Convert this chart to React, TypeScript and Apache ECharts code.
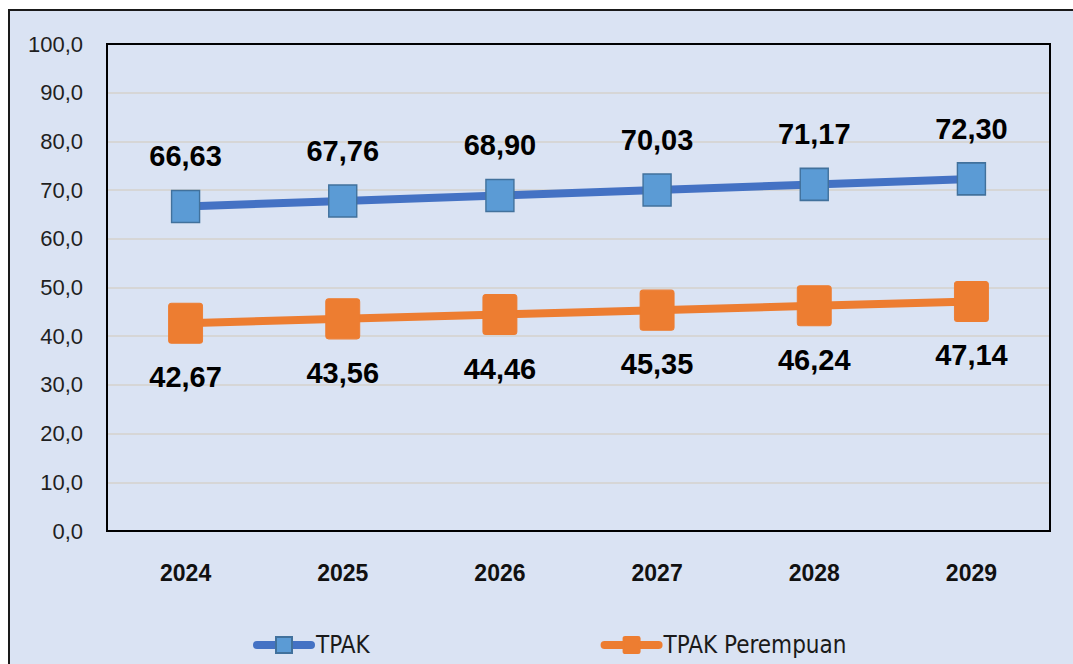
import React, { useEffect, useRef } from "react";
import * as echarts from "echarts";

const years = ["2024", "2025", "2026", "2027", "2028", "2029"];
const tpak = [66.63, 67.76, 68.9, 70.03, 71.17, 72.3];
const tpakPerempuan = [42.67, 43.56, 44.46, 45.35, 46.24, 47.14];
const seriesNames = ["TPAK", "TPAK Perempuan"];
const yMin = 0;
const yMax = 100;
const yStep = 10;

const fmt1 = (v: number) => v.toFixed(1).replace(".", ",");
const fmt2 = (v: number) => v.toFixed(2).replace(".", ",");

const FONT = "'Liberation Sans', Arial, sans-serif";
const COND = "'DejaVu Sans Condensed', 'Liberation Sans', sans-serif";
const ROUND_SQ =
  "path://M3,0H31A3,3 0 0 1 34,3V37A3,3 0 0 1 31,40H3A3,3 0 0 1 0,37V3A3,3 0 0 1 3,0Z";

const GRID = { left: 107, top: 44, right: 23, bottom: 133 };

export default function App() {
  const ref = useRef<HTMLDivElement>(null);
  useEffect(() => {
    if (!ref.current) return;
    const chart = echarts.init(ref.current, undefined, { renderer: "svg" });
    const W = 1073;
    const H = 664;
    chart.setOption({
      animation: false,
      backgroundColor: "#ffffff",
      graphic: [
        {
          type: "rect",
          z: -10,
          silent: true,
          shape: { x: 9, y: 10, width: 1200, height: 800 },
          style: { fill: "#dae3f3", stroke: "#1a1a1a", lineWidth: 2 },
        },
        {
          type: "rect",
          z: 1,
          silent: true,
          shape: {
            x: GRID.left,
            y: GRID.top,
            width: W - GRID.left - GRID.right,
            height: H - GRID.top - GRID.bottom,
          },
          style: { fill: "none", stroke: "#000000", lineWidth: 2 },
        },
      ],
      grid: {
        ...GRID,
        show: false,
        containLabel: false,
      },
      legend: {
        data: seriesNames,
        left: 248,
        top: 628,
        itemWidth: 54,
        itemHeight: 20,
        itemGap: 231,
        lineStyle: { width: 8, cap: "round" },
        textStyle: { fontFamily: COND, fontSize: 24, color: "#1a1a1a" },
      },
      xAxis: {
        type: "category",
        data: years,
        boundaryGap: true,
        axisLine: { show: false },
        axisTick: { show: false },
        axisLabel: {
          margin: 30,
          fontFamily: FONT,
          fontWeight: "bold",
          fontSize: 23,
          color: "#111111",
        },
      },
      yAxis: {
        type: "value",
        min: yMin,
        max: yMax,
        interval: yStep,
        axisLine: { show: false },
        axisTick: { show: false },
        splitLine: { show: true, lineStyle: { color: "#d6d6d6", width: 2 } },
        axisLabel: {
          margin: 24,
          fontFamily: FONT,
          fontSize: 22,
          color: "#1f1f1f",
          formatter: (v: number) => fmt1(v),
        },
      },
      series: [
        {
          name: seriesNames[0],
          type: "line",
          data: tpak,
          symbol: "rect",
          symbolSize: [28, 32],
          lineStyle: { color: "#4472c4", width: 8 },
          itemStyle: { color: "#5b9bd5", borderColor: "#41719c", borderWidth: 1.5 },
          label: {
            show: true,
            position: "top",
            distance: 19,
            fontFamily: FONT,
            fontWeight: "bold",
            fontSize: 29,
            color: "#000000",
            formatter: (p: any) => fmt2(p.value),
          },
          z: 3,
        },
        {
          name: seriesNames[1],
          type: "line",
          data: tpakPerempuan,
          symbol: ROUND_SQ,
          symbolSize: [34, 40],
          lineStyle: { color: "#ed7d31", width: 8 },
          itemStyle: { color: "#ed7d31", borderColor: "#ed7d31", borderWidth: 1 },
          label: {
            show: true,
            position: "bottom",
            distance: 19,
            fontFamily: FONT,
            fontWeight: "bold",
            fontSize: 29,
            color: "#000000",
            formatter: (p: any) => fmt2(p.value),
          },
          z: 3,
        },
      ],
    });
    return () => chart.dispose();
  }, []);
  return (
    <div
      ref={ref}
      style={{ position: "absolute", left: 0, top: 0, width: 1073, height: 664 }}
    />
  );
}
